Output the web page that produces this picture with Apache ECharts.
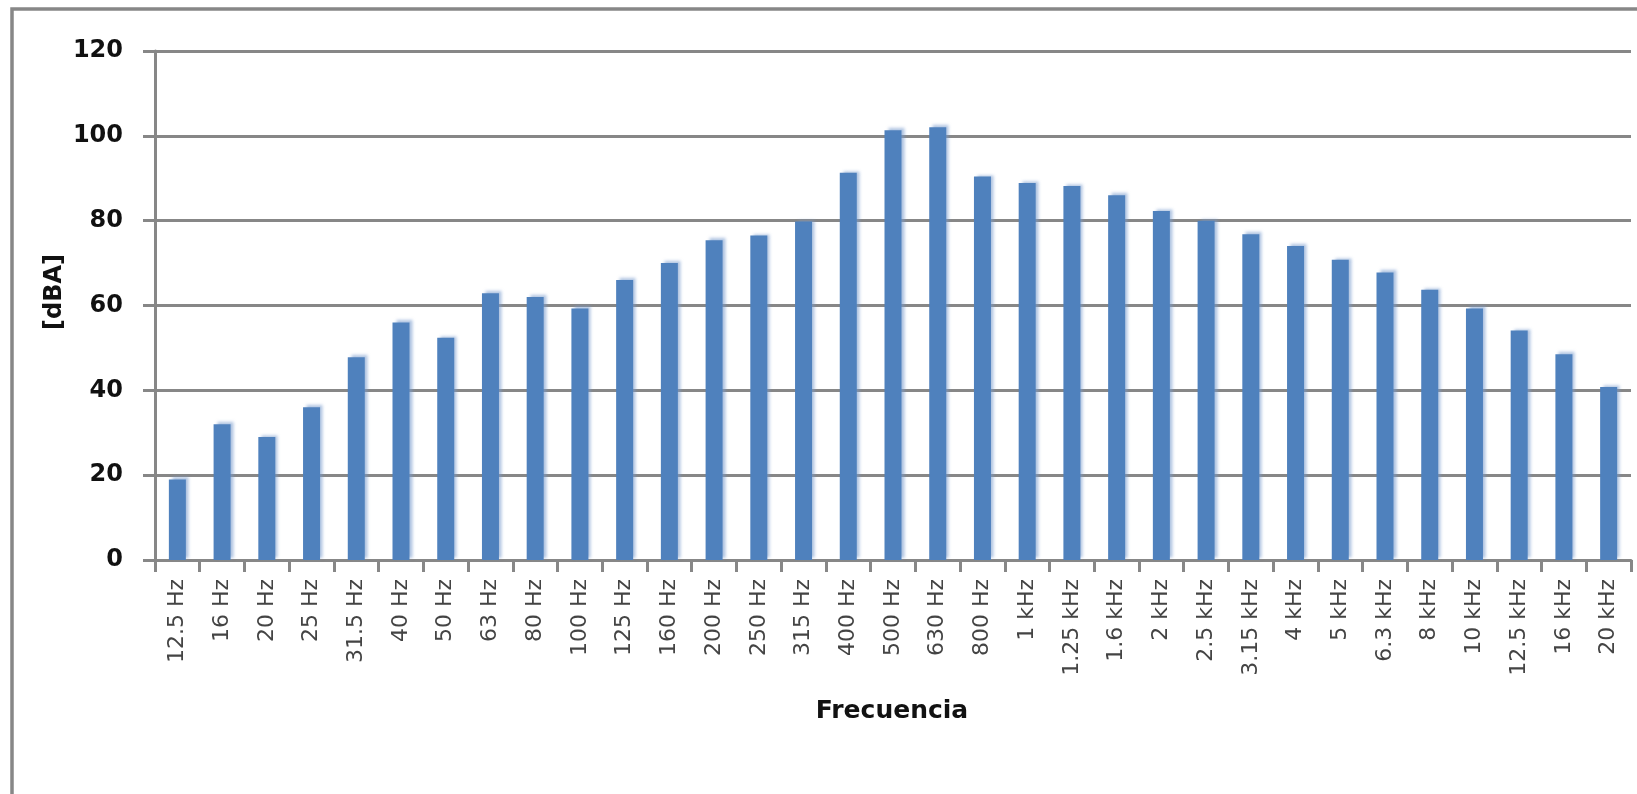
<!DOCTYPE html>
<html>
<head>
<meta charset="utf-8">
<script src="https://cdn.jsdelivr.net/npm/echarts@6/dist/echarts.min.js"></script>
<style>
  html, body { margin: 0; padding: 0; background: #ffffff; }
  #chart { width: 1637px; height: 794px; }
</style>
</head>
<body>
<div id="chart"></div>
<script>
// Third-octave band centre frequencies
const bands = [
  '12.5 Hz', '16 Hz', '20 Hz', '25 Hz', '31.5 Hz', '40 Hz', '50 Hz', '63 Hz',
  '80 Hz', '100 Hz', '125 Hz', '160 Hz', '200 Hz', '250 Hz', '315 Hz', '400 Hz',
  '500 Hz', '630 Hz', '800 Hz', '1 kHz', '1.25 kHz', '1.6 kHz', '2 kHz', '2.5 kHz',
  '3.15 kHz', '4 kHz', '5 kHz', '6.3 kHz', '8 kHz', '10 kHz', '12.5 kHz', '16 kHz', '20 kHz'
];

// A-weighted level per band [dBA]
const levels = [
  19, 32, 29, 36, 47.8, 56, 52.4, 62.9,
  62, 59.3, 66, 70, 75.4, 76.5, 79.8, 91.3,
  101.3, 102, 90.4, 88.9, 88.2, 86, 82.3, 80,
  76.8, 74, 70.8, 67.8, 63.7, 59.3, 54.1, 48.5, 40.8
];

// Value axis ticks
const yTicks = [0, 20, 40, 60, 80, 100, 120];

const axisGrey = '#878787';
const chart = echarts.init(document.getElementById('chart'));

chart.setOption({
  animation: false,
  backgroundColor: '#ffffff',
  grid: { left: 155, right: 6, top: 51, bottom: 234 },
  xAxis: {
    type: 'category',
    data: bands,
    boundaryGap: true,
    axisLine: { lineStyle: { color: axisGrey, width: 3 } },
    axisTick: { show: true, alignWithLabel: false, length: 12, lineStyle: { color: axisGrey, width: 3 } },
    axisLabel: {
      interval: 0,
      rotate: 90,
      margin: 19,
      color: '#444444',
      fontFamily: 'DejaVu Sans',
      fontSize: 22
    },
    splitLine: { show: false }
  },
  yAxis: {
    type: 'value',
    min: yTicks[0],
    max: yTicks[yTicks.length - 1],
    interval: yTicks[1] - yTicks[0],
    axisLine: { show: true, lineStyle: { color: axisGrey, width: 3 } },
    axisTick: { show: true, length: 12, lineStyle: { color: axisGrey, width: 3 } },
    axisLabel: {
      margin: 32,
      color: '#111111',
      fontFamily: 'DejaVu Sans',
      fontWeight: 'bold',
      fontSize: 24
    },
    splitLine: { show: true, lineStyle: { color: axisGrey, width: 3 } }
  },
  series: [{
    type: 'bar',
    data: levels,
    barWidth: 17,
    itemStyle: {
      color: '#4F81BD',
      shadowColor: 'rgba(120,155,205,0.6)',
      shadowBlur: 3,
      shadowOffsetX: 3,
      shadowOffsetY: -2
    }
  }],
  graphic: [
    {
      type: 'rect',
      z: -1,
      silent: true,
      shape: { x: 12, y: 9, width: 1700, height: 900 },
      style: { fill: 'none', stroke: axisGrey, lineWidth: 3.5 }
    },
    {
      type: 'text',
      x: 55,
      y: 292,
      rotation: Math.PI / 2,
      style: {
        text: '[dBA]',
        fill: '#111111',
        font: 'bold 24px "DejaVu Sans"',
        textAlign: 'center',
        textVerticalAlign: 'middle'
      }
    },
    {
      type: 'text',
      x: 892,
      y: 711,
      style: {
        text: 'Frecuencia',
        fill: '#111111',
        font: 'bold 25px "DejaVu Sans"',
        textAlign: 'center',
        textVerticalAlign: 'middle'
      }
    }
  ]
});
</script>
</body>
</html>
